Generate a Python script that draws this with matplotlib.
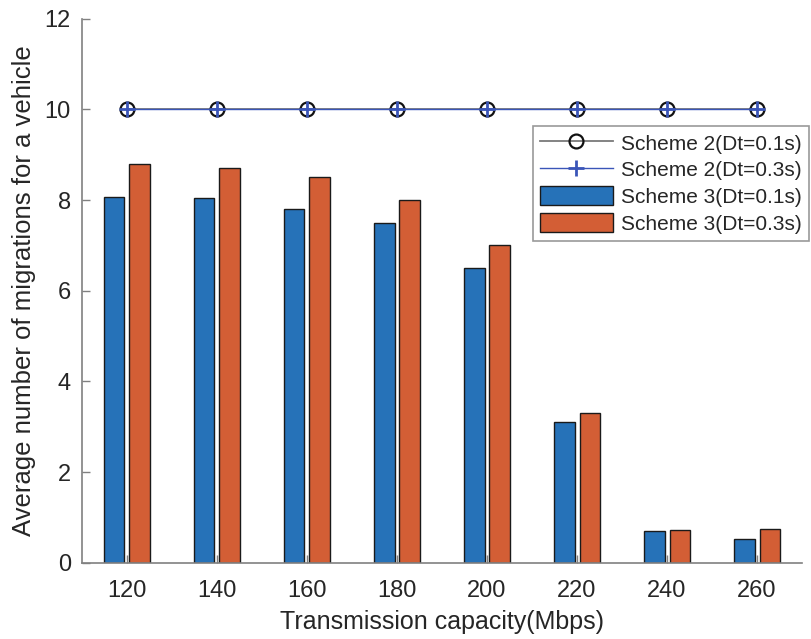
import numpy as np
import matplotlib
matplotlib.use("Agg")
import matplotlib.pyplot as plt

plt.rcParams["font.family"] = ["Liberation Sans", "DejaVu Sans"]

capacity = [120, 140, 160, 180, 200, 220, 240, 260]
scheme2_01 = [10, 10, 10, 10, 10, 10, 10, 10]
scheme2_03 = [10, 10, 10, 10, 10, 10, 10, 10]
scheme3_01 = [8.06, 8.04, 7.8, 7.5, 6.5, 3.1, 0.7, 0.53]
scheme3_03 = [8.8, 8.7, 8.5, 8.0, 7.0, 3.3, 0.72, 0.75]

blue = "#2672b8"
orange = "#d35e35"
axcol = "#808080"
txtcol = "#262626"

fig = plt.figure(figsize=(8.11, 6.39), dpi=100)
ax = fig.add_axes([0.101, 0.119, 0.888, 0.852])

x = np.array(capacity, dtype=float)
w = 4.6
ax.plot(x, scheme2_01, color="#7a7a7a", lw=1.3, marker="o", ms=10,
        mfc="none", mec="#111111", mew=1.6, label="Scheme 2(Dt=0.1s)", zorder=3)
ax.plot(x, scheme2_03, color="#3a55b8", lw=1.0, marker="+", ms=12,
        mec="#3a55b8", mew=2.0, label="Scheme 2(Dt=0.3s)", zorder=4)
ax.bar(x - 2.85, scheme3_01, w, color=blue, edgecolor="#1a1a1a", lw=1.0,
       label="Scheme 3(Dt=0.1s)", zorder=2)
ax.bar(x + 2.85, scheme3_03, w, color=orange, edgecolor="#1a1a1a", lw=1.0,
       label="Scheme 3(Dt=0.3s)", zorder=2)

ax.set_xlim(110, 270)
ax.set_ylim(0, 12)
ax.set_xticks(capacity)
ax.set_yticks(range(0, 13, 2))
ax.tick_params(direction="in", colors=axcol, labelcolor=txtcol, labelsize=17,
               length=6, width=1)
ax.tick_params(axis="x", pad=12)
ax.tick_params(axis="y", pad=8)
for s in ("top", "right"):
    ax.spines[s].set_visible(False)
for s in ("left", "bottom"):
    ax.spines[s].set_color(axcol)
    ax.spines[s].set_linewidth(1.2)

ax.set_xlabel("Transmission capacity(Mbps)", fontsize=18, color=txtcol, labelpad=6)
ax.set_ylabel("Average number of migrations for a vehicle", fontsize=18.5,
              color=txtcol, labelpad=6)

leg = ax.legend(loc="upper left", bbox_to_anchor=(0.626, 0.803), fontsize=15,
                frameon=True, fancybox=False, edgecolor="#808080",
                handlelength=3.5, handleheight=1.0, labelspacing=0.3,
                borderpad=0.35, handletextpad=0.4, borderaxespad=0)
leg.get_frame().set_linewidth(1.2)
for t in leg.get_texts():
    t.set_color(txtcol)

fig.savefig("out.png", dpi=100)
